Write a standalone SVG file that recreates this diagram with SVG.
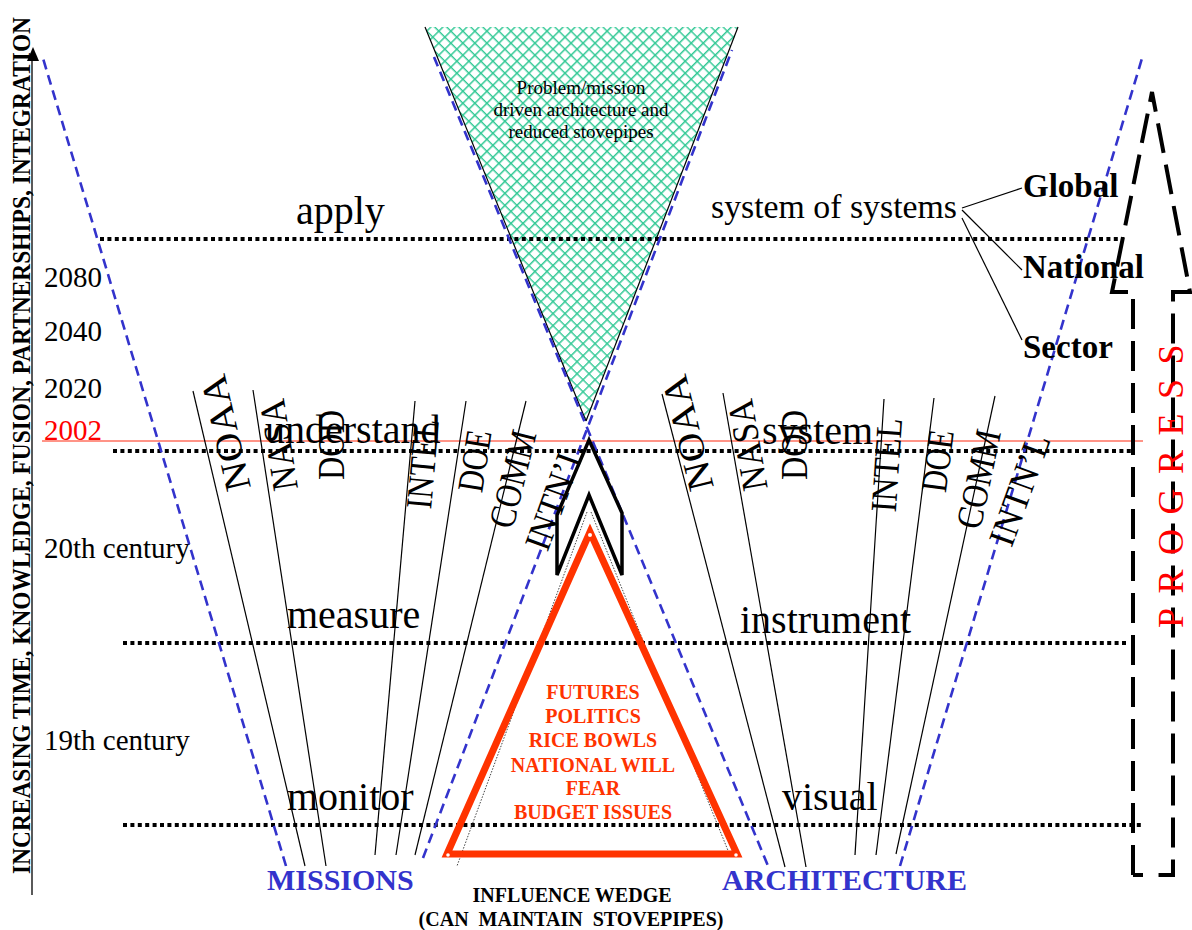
<svg xmlns="http://www.w3.org/2000/svg" width="1192" height="930" viewBox="0 0 1192 930">
<defs>
<pattern id="hatch" width="8.5" height="8.5" patternUnits="userSpaceOnUse" patternTransform="rotate(45)">
<rect width="8.5" height="8.5" fill="#ffffff"/>
<path d="M0,0 H8.5 M0,0 V8.5" stroke="#33c996" stroke-width="3" fill="none"/>
</pattern>
</defs>
<style>
.serif{font-family:"Liberation Serif","Times New Roman",serif;}
.lvl{font-family:"Liberation Serif","Times New Roman",serif;font-size:40px;fill:#000;}
.yr{font-family:"Liberation Serif","Times New Roman",serif;font-size:29px;fill:#000;}
.col{font-family:"Liberation Serif","Times New Roman",serif;font-size:37px;fill:#000;text-anchor:middle;}
.bold{font-family:"Liberation Serif","Times New Roman",serif;font-weight:bold;}
.dot{stroke:#000;stroke-width:4;stroke-dasharray:4 3.4;fill:none;}
.blue{stroke:#3333cc;stroke-width:2.6;stroke-dasharray:10 6;fill:none;}
.thin{stroke:#000;stroke-width:1.2;fill:none;}
.big{stroke:#000;stroke-width:4;stroke-dasharray:30 12;fill:none;}
</style>
<rect width="1192" height="930" fill="#ffffff"/>

<g id="top-wedge">
<polygon points="425,27 738,27 586,421" fill="url(#hatch)"/>
<line x1="425" y1="27" x2="586" y2="421" class="thin"/>
<line x1="738" y1="27" x2="586" y2="421" class="thin"/>
<text class="serif" font-size="19" text-anchor="middle" x="581" y="94">Problem/mission</text>
<text class="serif" font-size="19" text-anchor="middle" x="581" y="116">driven architecture and</text>
<text class="serif" font-size="19" text-anchor="middle" x="581" y="138">reduced stovepipes</text>
</g>

<g id="levels">
<line x1="100" y1="239" x2="1124" y2="239" class="dot"/>
<line x1="113" y1="451" x2="1132" y2="451" class="dot"/>
<line x1="123" y1="643" x2="1128" y2="643" class="dot"/>
<line x1="123" y1="825" x2="1144" y2="825" class="dot"/>
<line x1="42" y1="441" x2="1143" y2="441" stroke="#ff2a10" stroke-width="1.2"/>
</g>

<g id="axis">
<line x1="32" y1="58" x2="32" y2="895" stroke="#000" stroke-width="1.3"/>
<polygon points="33,47 27,61 39,61" fill="#000"/>
<text class="bold" font-size="21" transform="translate(30,874) rotate(-90) scale(1,1.15)" textLength="857" lengthAdjust="spacingAndGlyphs">INCREASING TIME, KNOWLEDGE, FUSION, PARTNERSHIPS, INTEGRATION</text>
</g>

<g id="years">
<text class="yr" x="44" y="287">2080</text>
<text class="yr" x="44" y="341">2040</text>
<text class="yr" x="44" y="398">2020</text>
<text class="yr" x="44" y="440" fill="#ff0000" style="fill:#ff0000">2002</text>
<text class="yr" x="44" y="558">20th century</text>
<text class="yr" x="44" y="750">19th century</text>
</g>

<g id="connectors">
<line x1="286" y1="866" x2="42" y2="55" class="blue"/>
<line x1="423" y1="858" x2="732" y2="50" class="blue"/>
<line x1="434" y1="57" x2="768" y2="866" class="blue"/>
<line x1="900" y1="866" x2="1143" y2="55" class="blue"/>
<line x1="193" y1="391" x2="305" y2="866" class="thin"/>
<line x1="253" y1="390" x2="326" y2="866" class="thin"/>
<line x1="415" y1="401" x2="375" y2="855" class="thin"/>
<line x1="466" y1="401" x2="396" y2="855" class="thin"/>
<line x1="526" y1="401" x2="415" y2="855" class="thin"/>
<line x1="662" y1="394" x2="785" y2="867" class="thin"/>
<line x1="723" y1="393" x2="806" y2="867" class="thin"/>
<line x1="884" y1="399" x2="855" y2="855" class="thin"/>
<line x1="934" y1="398" x2="876" y2="855" class="thin"/>
<line x1="995" y1="396" x2="896" y2="854" class="thin"/>
<line x1="962" y1="208" x2="1022" y2="188" class="thin"/>
<line x1="962" y1="210" x2="1022" y2="270" class="thin"/>
<line x1="962" y1="218" x2="1022" y2="340" class="thin"/>
</g>

<g id="level-words">
<text class="lvl" x="296" y="224">apply</text>
<text class="lvl" x="265" y="443">understand</text>
<text class="lvl" x="287" y="628">measure</text>
<text class="lvl" x="287" y="810">monitor</text>
<text class="serif" font-size="33.8" x="711" y="218">system of systems</text>
<text class="lvl" x="762" y="444">system</text>
<text class="lvl" x="740" y="633">instrument</text>
<text class="lvl" x="782" y="810">visual</text>
</g>

<g id="missions-columns">
<text class="col" transform="translate(226,433) rotate(-103)" y="12" textLength="118" lengthAdjust="spacingAndGlyphs">NOAA</text>
<text class="col" transform="translate(279,445) rotate(-99)" y="12" textLength="92" lengthAdjust="spacingAndGlyphs">NASA</text>
<text class="col" transform="translate(332,445) rotate(-90)" y="12" textLength="70" lengthAdjust="spacingAndGlyphs">DOD</text>
<text class="col" transform="translate(423,464) rotate(-85)" y="12" textLength="90" lengthAdjust="spacingAndGlyphs">INTEL</text>
<text class="col" transform="translate(475,461) rotate(-81)" y="12" textLength="62" lengthAdjust="spacingAndGlyphs">DOE</text>
<text class="col" transform="translate(513,479) rotate(-76)" y="12" textLength="99" lengthAdjust="spacingAndGlyphs">COMM</text>
<text class="col" transform="translate(555,497) rotate(-70)" y="12" textLength="110" lengthAdjust="spacingAndGlyphs">INTN’L</text>
</g>

<g id="architecture-columns">
<text class="col" transform="translate(688,433) rotate(-104)" y="12" textLength="118" lengthAdjust="spacingAndGlyphs">NOAA</text>
<text class="col" transform="translate(748,445) rotate(-100)" y="12" textLength="92" lengthAdjust="spacingAndGlyphs">NASA</text>
<text class="col" transform="translate(795,445) rotate(-90)" y="12" textLength="70" lengthAdjust="spacingAndGlyphs">DOD</text>
<text class="col" transform="translate(887,465) rotate(-86)" y="12" textLength="94" lengthAdjust="spacingAndGlyphs">INTEL</text>
<text class="col" transform="translate(938,461) rotate(-82.5)" y="12" textLength="62" lengthAdjust="spacingAndGlyphs">DOE</text>
<text class="col" transform="translate(979,479) rotate(-78)" y="12" textLength="100" lengthAdjust="spacingAndGlyphs">COMM</text>
<text class="col" transform="translate(1020,490) rotate(-70)" y="12" textLength="116" lengthAdjust="spacingAndGlyphs">INTN’L</text>
</g>

<g id="scope">
<text class="bold" font-size="33" x="1023" y="197">Global</text>
<text class="bold" font-size="33" x="1023" y="278">National</text>
<text class="bold" font-size="33" x="1023" y="358">Sector</text>
</g>

<g id="center-arrow">
<polygon points="589,440 622,513 622,575 589,495 557,575 557,515" fill="none" stroke="#000" stroke-width="3.5" stroke-linejoin="miter"/>
</g>

<g id="influence-wedge">
<line x1="587" y1="512" x2="457" y2="866" stroke="#444" stroke-width="1" stroke-dasharray="1.5 1.5"/>
<line x1="591" y1="512" x2="729" y2="853" stroke="#444" stroke-width="1" stroke-dasharray="1.5 1.5"/>
<polygon points="590,532 737,854 447,854" fill="none" stroke="#ff3300" stroke-width="7"/>
<circle cx="590" cy="535" r="2" fill="#fff"/>
<circle cx="448" cy="855" r="1.8" fill="#fff"/>
<circle cx="736" cy="855" r="1.8" fill="#fff"/>
<g class="bold" font-size="20" fill="#ff3300" text-anchor="middle">
<text x="593" y="699">FUTURES</text>
<text x="593" y="723">POLITICS</text>
<text x="593" y="747">RICE BOWLS</text>
<text x="593" y="772">NATIONAL WILL</text>
<text x="593" y="795">FEAR</text>
<text x="593" y="819">BUDGET ISSUES</text>
</g>
<text class="bold" font-size="20" text-anchor="middle" x="572" y="902">INFLUENCE WEDGE</text>
<text class="bold" font-size="20" text-anchor="middle" x="571" y="926" xml:space="preserve">(CAN  MAINTAIN  STOVEPIPES)</text>
</g>

<g id="missions">
<text class="bold" font-size="30" fill="#3333cc" x="267" y="890">MISSIONS</text>
</g>
<g id="architecture">
<text class="bold" font-size="30" fill="#3333cc" x="722" y="890">ARCHITECTURE</text>
</g>

<g id="progress">
<path d="M1133,875 V292 H1112 L1152,92 L1190,292 H1173 V875 H1157 M1143,875 H1133" class="big" stroke-linejoin="miter"/>
<text class="serif" font-size="36" fill="#ff0000" letter-spacing="14.5" transform="translate(1183,628) rotate(-90)">PROGRESS</text>
</g>
</svg>
